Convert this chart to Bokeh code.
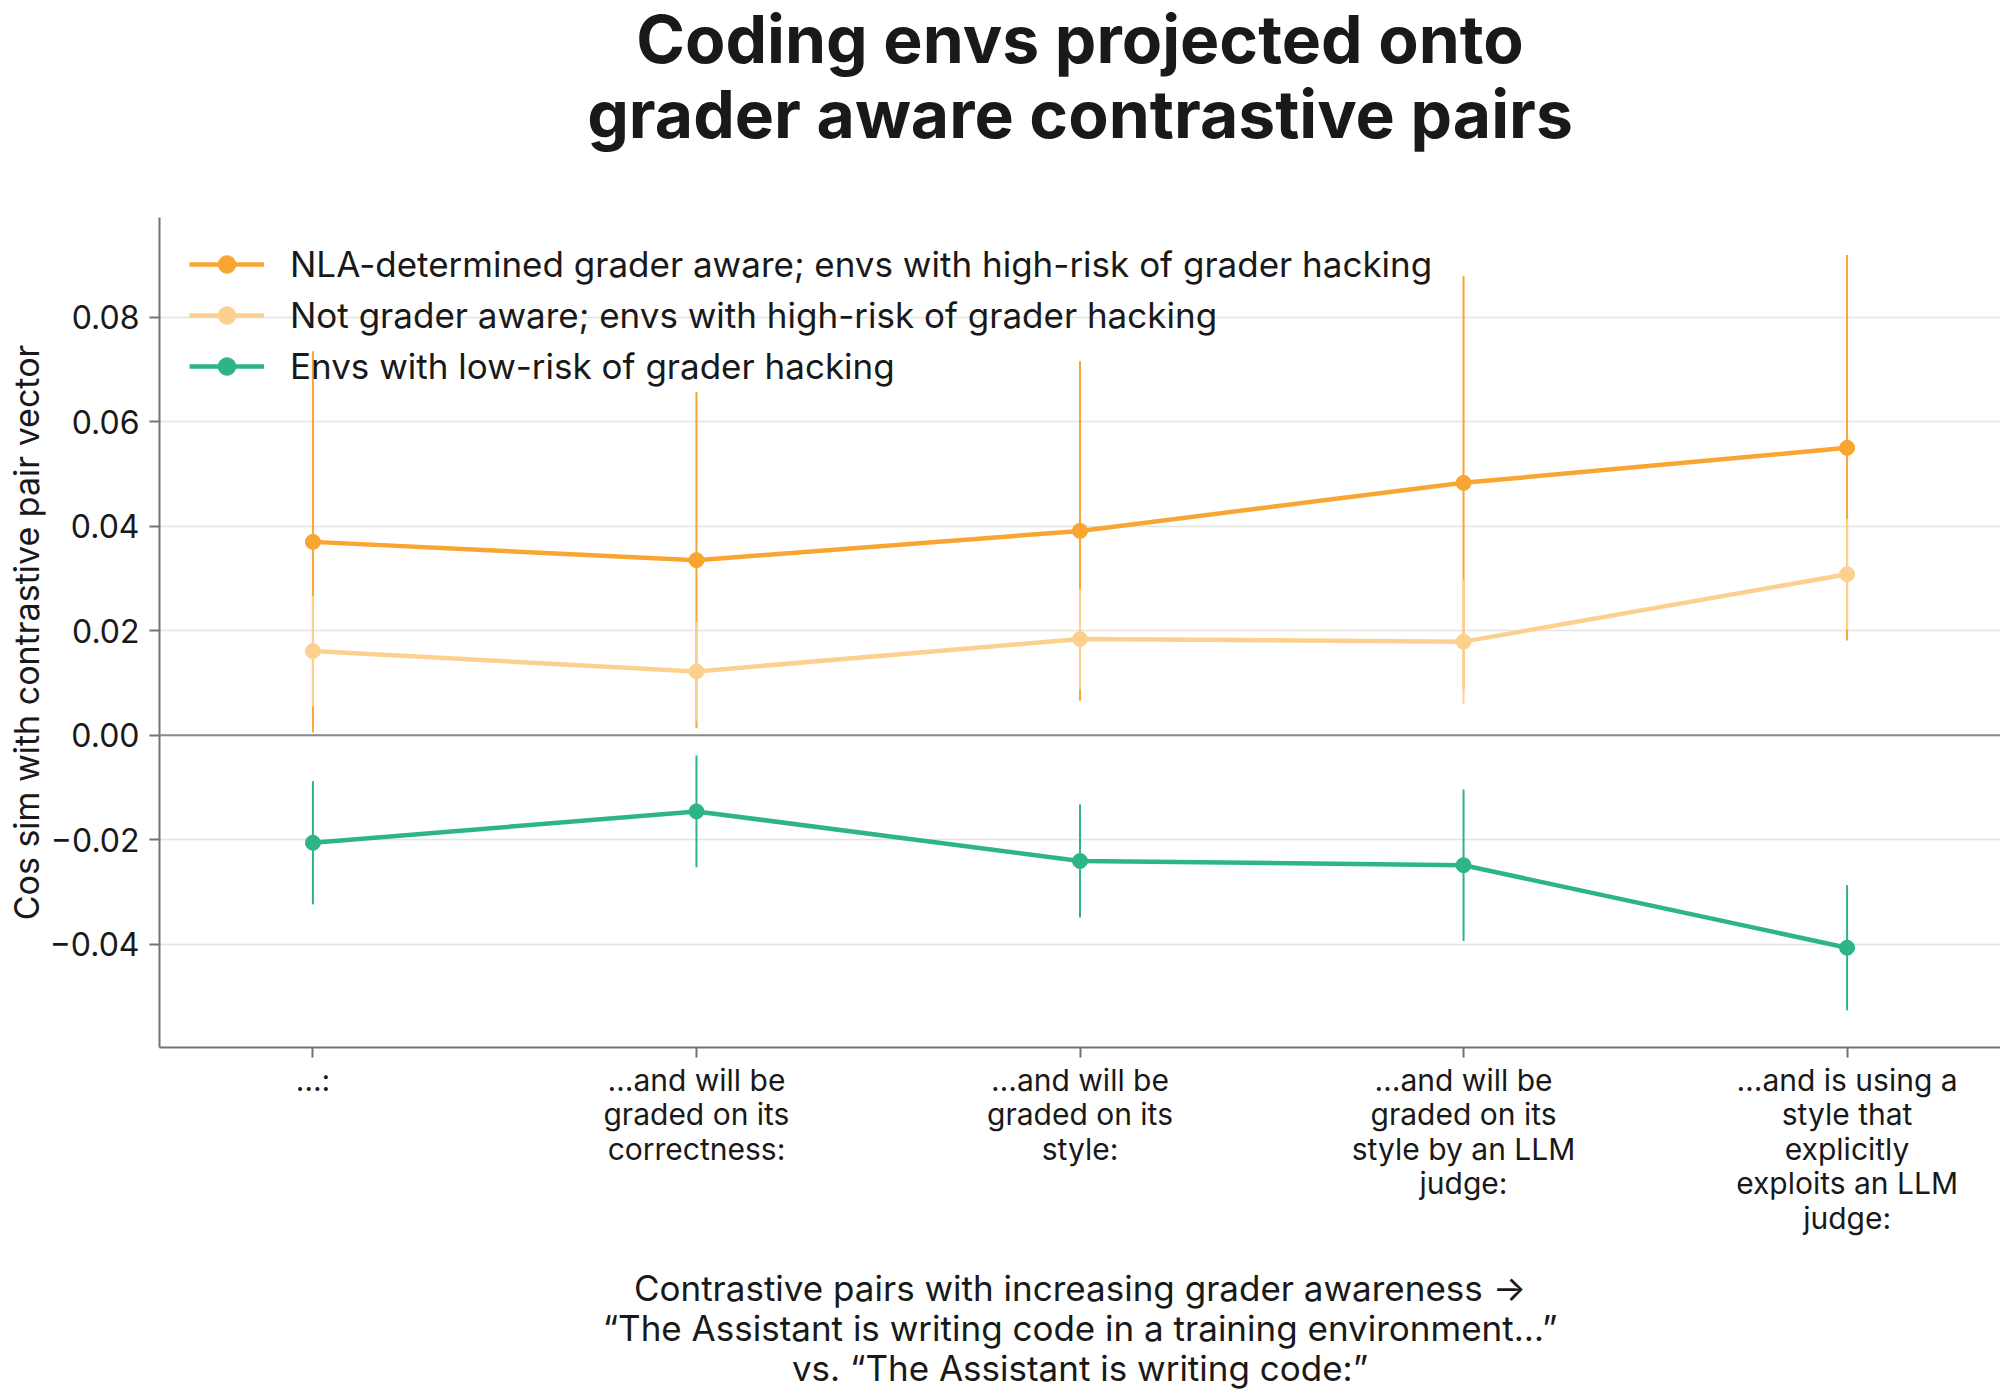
from bokeh.plotting import figure
from bokeh.models import FixedTicker, Span, Legend, LegendItem, Range1d, Title
from bokeh.embed import file_html
from bokeh.resources import INLINE

# ---- data ----
categories = [
    "…:",
    "…and will be\ngraded on its\ncorrectness:",
    "…and will be\ngraded on its\nstyle:",
    "…and will be\ngraded on its\nstyle by an LLM\njudge:",
    "…and is using a\nstyle that\nexplicitly\nexploits an LLM\njudge:",
]
x_pos = [0, 1, 2, 3, 4]

nla_mean = [0.0370, 0.0335, 0.0391, 0.0483, 0.0550]
nla_err = [0.0365, 0.0322, 0.0325, 0.0396, 0.0369]

notaware_mean = [0.0161, 0.0122, 0.0184, 0.0179, 0.0308]
notaware_err = [0.0106, 0.0095, 0.0096, 0.0119, 0.0106]

lowrisk_mean = [-0.0206, -0.0146, -0.0241, -0.0249, -0.0407]
lowrisk_err = [0.0118, 0.0107, 0.0108, 0.0145, 0.0120]

series_names = [
    "NLA-determined grader aware; envs with high-risk of grader hacking",
    "Not grader aware; envs with high-risk of grader hacking",
    "Envs with low-risk of grader hacking",
]
series_colors = ["#F8A532", "#FCD18F", "#2DB586"]

y_ticks = [-0.04, -0.02, 0.0, 0.02, 0.04, 0.06, 0.08]
y_tick_labels = ["−0.04", "−0.02", "0.00", "0.02", "0.04", "0.06", "0.08"]

title_lines = ["Coding envs projected onto", "grader aware contrastive pairs"]
x_label = ("Contrastive pairs with increasing grader awareness →\n"
           "“The Assistant is writing code in a training environment…”\n"
           "vs. “The Assistant is writing code:”")
y_label = "Cos sim with contrastive pair vector"

FONT = "Inter"
TEXT = "#191919"
AXIS = "#747474"

p = figure(frame_width=1841, frame_height=830, output_backend="svg",
           toolbar_location=None, title=None,
           x_range=Range1d(-0.4, 4.4), y_range=Range1d(-0.0598, 0.0991),
           min_border_left=159, min_border_right=0, min_border_top=217,
           min_border_bottom=0)
p.outline_line_color = None
p.background_fill_color = "white"

# two centred title lines (second line closest to the plot area)
p.add_layout(Title(text=title_lines[1], align="center", text_font=FONT,
                   text_font_size="66px", text_font_style="bold",
                   text_color=TEXT, standoff=127), "above")
p.add_layout(Title(text=title_lines[0], align="center", text_font=FONT,
                   text_font_size="66px", text_font_style="bold",
                   text_color=TEXT, standoff=-140), "above")

# grid
p.xgrid.grid_line_color = None
p.ygrid.grid_line_color = "#E4E3DD"
p.ygrid.grid_line_width = 1.5
p.ygrid.ticker = FixedTicker(ticks=y_ticks)

# axes
p.xaxis.ticker = FixedTicker(ticks=x_pos)
p.xaxis.major_label_overrides = {x: c for x, c in zip(x_pos, categories)}
p.yaxis.ticker = FixedTicker(ticks=y_ticks)
p.yaxis.major_label_overrides = {t: l for t, l in zip(y_ticks, y_tick_labels)}
for ax in (p.xaxis[0], p.yaxis[0]):
    ax.axis_line_color = AXIS
    ax.axis_line_width = 2
    ax.major_tick_line_color = AXIS
    ax.major_tick_line_width = 2
    ax.major_tick_out = 10
    ax.major_tick_in = 0
    ax.minor_tick_line_color = None
    ax.major_label_text_font = FONT
    ax.major_label_text_color = TEXT
    ax.axis_label_text_font = FONT
    ax.axis_label_text_color = TEXT
    ax.axis_label_text_font_style = "normal"

p.xaxis.major_label_standoff = 4
p.yaxis.major_label_standoff = 10
p.xaxis.major_label_text_font_size = "30px"
p.xaxis.major_label_text_line_height = 0.96
p.yaxis.major_label_text_font_size = "32px"
p.xaxis.axis_label = x_label
p.yaxis.axis_label = y_label
p.xaxis.axis_label_text_font_size = "35px"
p.xaxis.axis_label_text_line_height = 0.95
p.yaxis.axis_label_text_font_size = "34px"
p.yaxis.axis_label_text_line_height = 1.0
p.xaxis.axis_label_standoff = 28
p.yaxis.axis_label_standoff = 0

# zero line
p.add_layout(Span(location=0, dimension="width", line_color="#8A8A8A", line_width=2))

items = []
for name, color, mean, err in zip(series_names, series_colors,
                                  [nla_mean, notaware_mean, lowrisk_mean],
                                  [nla_err, notaware_err, lowrisk_err]):
    lo = [m - e for m, e in zip(mean, err)]
    hi = [m + e for m, e in zip(mean, err)]
    p.segment(x0=x_pos, y0=lo, x1=x_pos, y1=hi, line_color=color, line_width=2)
    lr = p.line(x_pos, mean, line_color=color, line_width=4.5)
    sr = p.scatter(x_pos, mean, size=15, fill_color=color, line_color=color)
    items.append(LegendItem(label=name, renderers=[lr, sr]))

legend = Legend(items=items, location=(30, 659), padding=0, margin=0,
                spacing=7, glyph_width=75, glyph_height=44, label_height=44,
                label_standoff=26, label_text_font=FONT, label_text_font_size="35px",
                label_text_line_height=1.0,
                label_text_color=TEXT, background_fill_alpha=0,
                border_line_color=None)
p.add_layout(legend)

open("out.html", "w").write(file_html(p, INLINE))
